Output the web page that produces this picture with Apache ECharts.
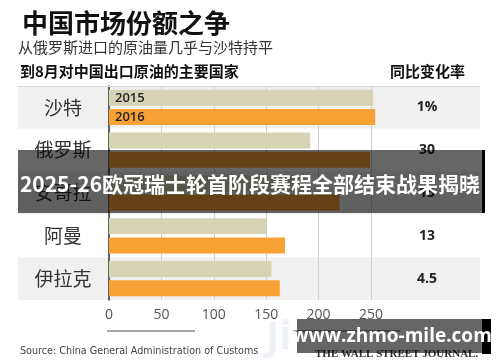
<!DOCTYPE html>
<html><head><meta charset="utf-8">
<script src="https://cdn.jsdelivr.net/npm/echarts@6/dist/echarts.min.js"></script>
<style>html,body{margin:0;padding:0;background:#fff}#c{width:500px;height:362px}</style>
</head><body><div id="c"></div>
<script>
const countries = ['沙特', '俄罗斯', '安哥拉', '阿曼', '伊拉克'];
const changes = ['1%', '30', '15', '13', '4.5'];
const seriesNames = ['2015', '2016'];
const values2015 = [252, 192, 191, 150, 155];
const values2016 = [254, 249, 220, 168, 163];
const xMin = 0, xMax = 250, xStep = 50;

const CJK = '"Noto Sans CJK SC", "Noto Sans", sans-serif';
const colors = ['#d7d4b6', '#f8a236'];

function toData(vals, name) {
  return vals.map((v, i) => i === 0 ? {
    value: v,
    label: { show: true, position: 'insideLeft', distance: 6, formatter: name,
      color: '#222', fontSize: 13, fontWeight: 600, fontFamily: '"Open Sans", sans-serif' }
  } : v);
}

const chart = echarts.init(document.getElementById('c'), null, { renderer: 'canvas' });
chart.setOption({
  animation: false,
  backgroundColor: '#fff',
  grid: [
    { left: 109, right: 129, top: 86, bottom: 62 },
    { left: 18, right: 20, top: 86, bottom: 62 }
  ],
  xAxis: [
    { type: 'value', gridIndex: 0, min: xMin, max: xMax, interval: xStep,
      axisLine: { show: false }, axisTick: { show: false },
      splitLine: { show: true, lineStyle: { color: '#cfcfcf', width: 1 } },
      axisLabel: { margin: 8, fontSize: 14, color: '#555', fontFamily: '"Open Sans", sans-serif' } },
    { type: 'value', gridIndex: 1, min: 0, max: 1, position: 'top', show: true,
      axisLine: { show: true, lineStyle: { color: '#d8d8d8', width: 1 } },
      axisTick: { show: false }, axisLabel: { show: false }, splitLine: { show: false } }
  ],
  yAxis: [
    { type: 'category', gridIndex: 0, data: countries, inverse: true,
      axisLine: { show: true, onZero: false, lineStyle: { color: '#333', width: 1.5 } },
      axisTick: { show: false },
      axisLabel: { align: 'center', margin: 46, fontSize: 19, color: '#333', fontFamily: CJK } },
    { type: 'category', gridIndex: 0, data: changes, inverse: true, position: 'right',
      axisLine: { show: false }, axisTick: { show: false },
      axisLabel: { align: 'center', margin: 56, fontSize: 14, fontWeight: 'bold', color: '#222',
        fontFamily: '"Open Sans", sans-serif' } },
    { type: 'category', gridIndex: 1, data: countries, inverse: true, z: -1,
      axisLine: { show: false }, axisTick: { show: false }, axisLabel: { show: false },
      splitLine: { show: false },
      splitArea: { show: true, areaStyle: { color: ['#f0f0f0', '#ffffff'] } } }
  ],
  series: [
    { name: seriesNames[0], type: 'bar', xAxisIndex: 0, yAxisIndex: 0, clip: false,
      data: toData(values2015, seriesNames[0]), barWidth: 16, barGap: '20%',
      itemStyle: { color: colors[0] } },
    { name: seriesNames[1], type: 'bar', xAxisIndex: 0, yAxisIndex: 0, clip: false,
      data: toData(values2016, seriesNames[1]), barWidth: 16, barGap: '20%',
      itemStyle: { color: colors[1] } }
  ],
  graphic: [
    { type: 'text', left: 22, top: 10, style: { text: '中国市场份额之争', font: 'bold 26px ' + CJK, fill: '#111' } },
    { type: 'text', left: 18, top: 40, style: { text: '从俄罗斯进口的原油量几乎与沙特持平', font: '15px ' + CJK, fill: '#333' } },
    { type: 'text', left: 20, top: 64, style: { text: '到8月对中国出口原油的主要国家', font: 'bold 15px ' + CJK, fill: '#111' } },
    { type: 'text', left: 390, top: 64, style: { text: '同比变化率', font: 'bold 15px ' + CJK, fill: '#111' } },
    { type: 'line', shape: { x1: 107, y1: 331, x2: 195, y2: 331 }, style: { stroke: '#888', lineWidth: 1.5 } },
    { type: 'line', shape: { x1: 293, y1: 331, x2: 400, y2: 331 }, style: { stroke: '#888', lineWidth: 1.5 } },
    { type: 'text', left: 266, top: 318, style: { text: 'Ji', font: 'bold 40px "Open Sans", sans-serif', fill: 'rgba(200,212,230,0.3)' } },
    { type: 'text', left: 20, top: 346, style: { text: 'Source: China General Administration of Customs', font: '10.7px "Liberation Sans Narrow", "DejaVu Sans Condensed", sans-serif', fill: '#444' } },
    { type: 'text', left: 315, top: 349, style: { text: 'THE WALL STREET JOURNAL.', font: 'bold 11px "Liberation Serif", "DejaVu Serif", serif', fill: '#333' } },
    { type: 'rect', shape: { x: 18, y: 150, width: 464, height: 63 }, style: { fill: 'rgba(0,0,0,0.6)' }, z: 100 },
    { type: 'rect', shape: { x: 482, y: 150, width: 3, height: 63 }, style: { fill: '#000' }, z: 100 },
    { type: 'text', x: 250, y: 184, z: 101, style: { text: '2025-26欧冠瑞士轮首阶段赛程全部结束战果揭晓', font: 'bold 21px ' + CJK, fill: '#fff', textAlign: 'center', textVerticalAlign: 'middle' } },
    { type: 'rect', shape: { x: 297, y: 319, width: 185, height: 34 }, style: { fill: 'rgba(0,0,0,0.6)' }, z: 100 },
    { type: 'rect', shape: { x: 482, y: 319, width: 9, height: 35 }, style: { fill: '#000' }, z: 100 },
    { type: 'text', x: 392, y: 337, z: 101, style: { text: 'www.zhmo-mile.com', font: 'bold 19px "Open Sans", sans-serif', fill: '#fff', textAlign: 'center', textVerticalAlign: 'middle' } }
  ]
});
</script></body></html>
